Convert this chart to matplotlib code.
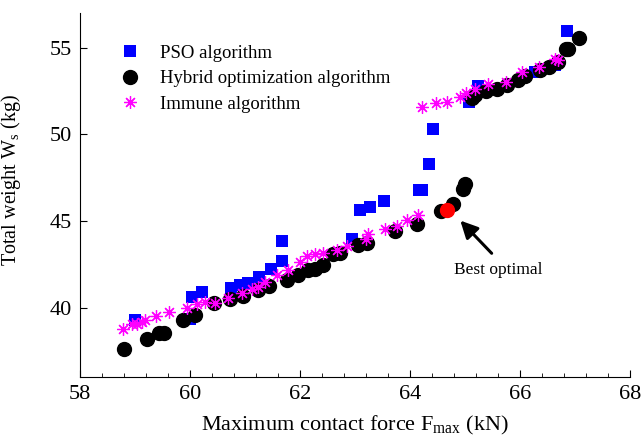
import matplotlib
matplotlib.use('Agg')
import matplotlib.pyplot as plt
from matplotlib.ticker import MultipleLocator

# PSO algorithm (blue squares)
pso_x = [59.0, 60.0, 60.03, 60.22, 60.74, 60.91, 61.06, 61.25, 61.48, 61.67, 61.67,
         62.95, 63.1, 63.27, 63.53, 64.16, 64.22, 64.35, 64.41, 65.08, 65.24,
         66.27, 66.64, 66.86]
pso_y = [39.27, 39.35, 40.61, 40.9, 41.13, 41.29, 41.45, 41.75, 42.25, 42.67, 43.83,
         43.98, 45.66, 45.78, 46.14, 46.8, 46.8, 48.27, 50.33, 51.87, 52.78,
         53.6, 53.99, 55.95]

# Hybrid optimization algorithm (black circles)
hyb_x = [58.8, 59.21, 59.44, 59.53, 59.88, 60.1, 60.44, 60.72, 60.96, 61.24, 61.44,
         61.76, 61.97, 62.15, 62.27, 62.41, 62.6, 62.73, 63.06, 63.21, 63.72, 64.12,
         64.57, 64.79, 64.97, 65.0, 65.12, 65.18, 65.38, 65.58, 65.76, 65.96, 66.09,
         66.36, 66.52, 66.7, 66.84, 66.87, 67.07]
hyb_y = [37.63, 38.17, 38.56, 38.56, 39.27, 39.55, 40.27, 40.48, 40.7, 41.0, 41.23,
         41.62, 41.86, 42.15, 42.25, 42.48, 43.08, 43.17, 43.6, 43.73, 44.42, 44.8,
         45.56, 46.0, 46.87, 47.16, 52.07, 52.26, 52.49, 52.64, 52.85, 53.16, 53.35,
         53.74, 53.89, 54.18, 54.9, 54.95, 55.53]

# Immune algorithm (magenta asterisks)
imm_x = [58.79, 58.94, 59.03, 59.12, 59.18, 59.38, 59.62, 59.95, 60.12, 60.27, 60.45,
         60.7, 60.94, 61.12, 61.24, 61.36, 61.58, 61.79, 62.0, 62.12, 62.27, 62.42,
         62.67, 62.85, 63.2, 63.24, 63.55, 63.76, 63.94, 64.15, 64.21, 64.48, 64.68,
         64.91, 65.02, 65.18, 65.42, 65.74, 66.03, 66.35, 66.64, 66.7]
imm_y = [38.79, 39.04, 39.08, 39.17, 39.27, 39.5, 39.75, 39.98, 40.19, 40.32, 40.27,
         40.58, 40.84, 41.06, 41.19, 41.5, 41.86, 42.15, 42.63, 42.96, 43.08, 43.15,
         43.31, 43.54, 43.98, 44.27, 44.56, 44.69, 45.04, 45.33, 51.55, 51.78, 51.84,
         52.16, 52.36, 52.59, 52.93, 53.03, 53.6, 53.89, 54.32, 54.28]

# best point and annotation
best_x, best_y = 64.67, 45.62
arrow_head = (64.88, 45.14)
arrow_tail = (65.52, 43.02)
label_pos = (65.6, 42.2)

plt.rcParams['font.family'] = ['Liberation Serif', 'DejaVu Serif']
plt.rcParams['mathtext.fontset'] = 'custom'
plt.rcParams['mathtext.rm'] = 'Liberation Serif'
plt.rcParams['mathtext.it'] = 'Liberation Serif'

fig = plt.figure(figsize=(6.42, 4.4), dpi=100)
ax = fig.add_axes((80/642, 63/440, 550/642, 364/440))

ax.plot(pso_x, pso_y, linestyle='none', marker='s', markersize=8.5, color='#0000ff',
        markeredgewidth=0, label='PSO algorithm')
ax.plot(hyb_x, hyb_y, linestyle='none', marker='o', markersize=10, color='black',
        label='Hybrid optimization algorithm')
ax.plot(imm_x, imm_y, linestyle='none', marker=(8, 2, 0), markersize=9, color='#ff00ff',
        markeredgewidth=0.9, label='Immune algorithm')
ax.plot([best_x], [best_y], linestyle='none', marker='o', markersize=10, color='red')

ax.annotate('', xy=arrow_head, xytext=arrow_tail,
            arrowprops=dict(arrowstyle='-|>', color='black', lw=2.2, mutation_scale=26))
ax.text(label_pos[0], label_pos[1], 'Best optimal', ha='center', va='center', fontsize=12.5)

ax.set_xlim(58, 68)
ax.set_ylim(36, 57)
ax.xaxis.set_major_locator(MultipleLocator(2))
ax.xaxis.set_minor_locator(MultipleLocator(0.4))
ax.yaxis.set_major_locator(MultipleLocator(5))
ax.tick_params(axis='both', which='major', direction='in', length=5, labelsize=16, pad=6)
ax.tick_params(axis='both', which='minor', direction='in', length=3)
ax.spines['top'].set_visible(False)
ax.spines['right'].set_visible(False)

ax.set_xlabel(r'Maximum contact force F$_{\mathrm{max}}$ (kN)', fontsize=16, labelpad=7)
ax.set_ylabel(r'Total weight W$_{\mathrm{s}}$ (kg)', fontsize=14.5)
ax.yaxis.set_label_coords(-0.104, 0.54)

ax.legend(loc='upper left', bbox_to_anchor=(0.04, 0.96), frameon=False, fontsize=13.5,
          numpoints=1, handlelength=1.2, handletextpad=1.0, labelspacing=0.45)

plt.savefig('out.png', dpi=100)
